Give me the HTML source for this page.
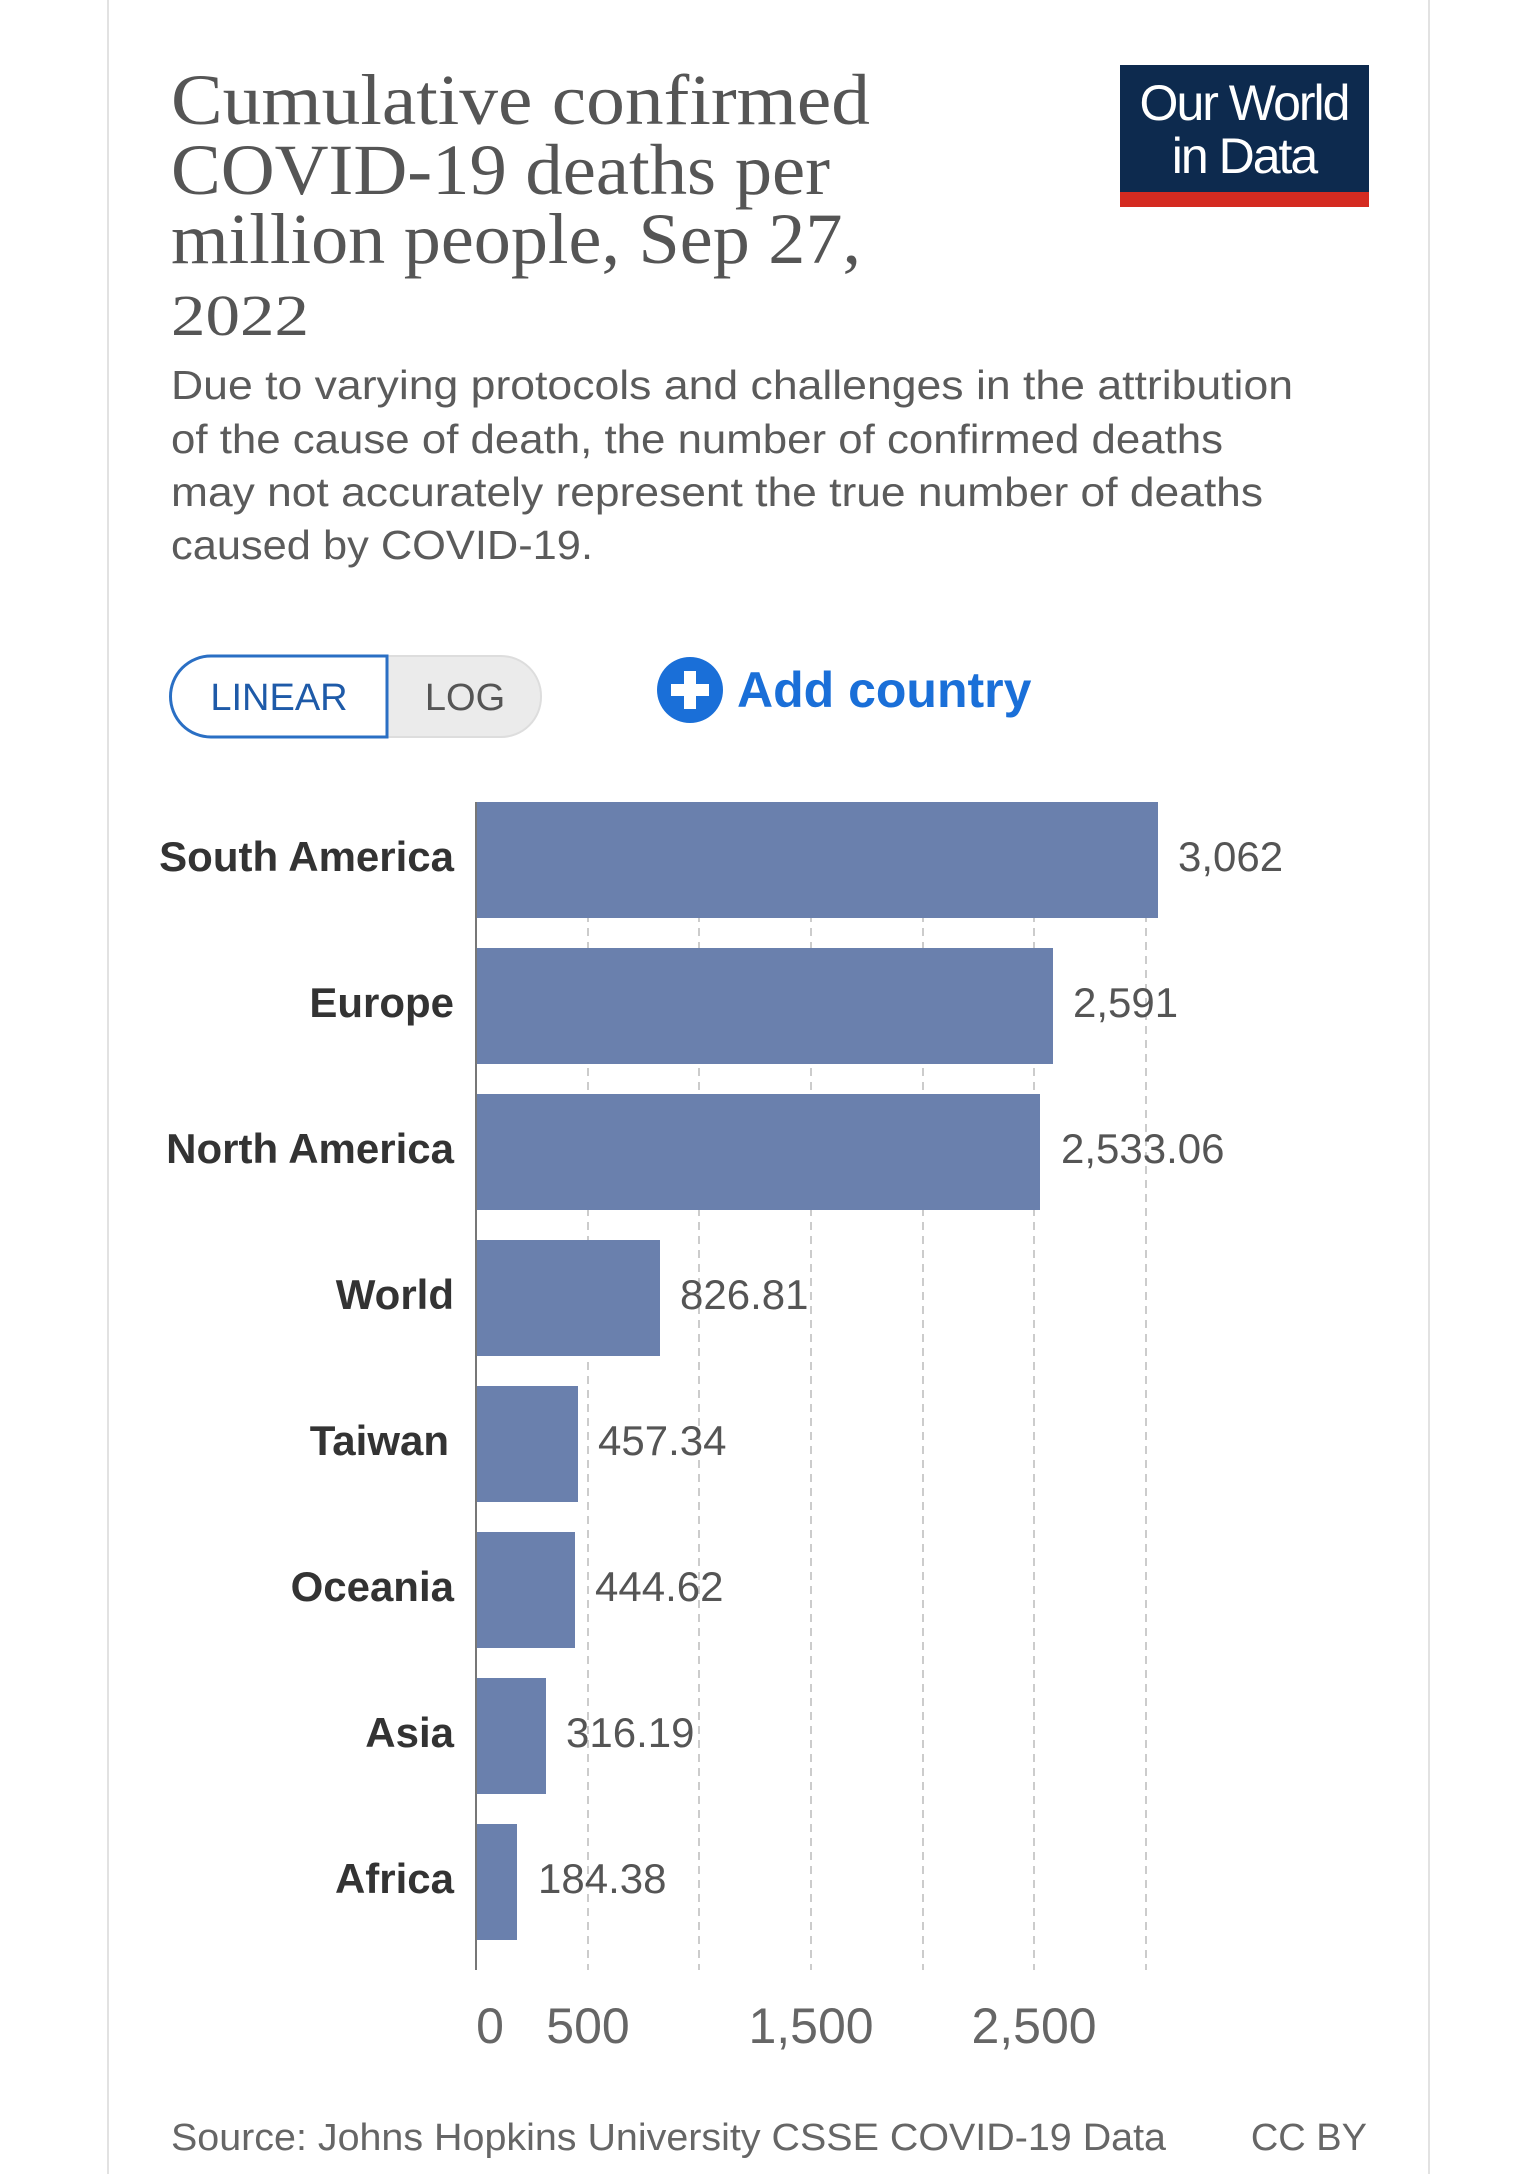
<!DOCTYPE html>
<html><head><meta charset="utf-8"><style>
html,body{margin:0;padding:0;background:#fff;}
svg{display:block;}
</style></head><body>
<svg width="1536" height="2174" viewBox="0 0 1536 2174" xmlns="http://www.w3.org/2000/svg" font-family="Liberation Sans, sans-serif">
<rect width="1536" height="2174" fill="#fff"/>
<rect x="108" y="-10" width="1321" height="2200" fill="#fff" stroke="#e2e2e2" stroke-width="2"/>
<g font-family="Liberation Serif, serif" fill="#555" font-size="72">
<text x="171" y="124" textLength="699" lengthAdjust="spacingAndGlyphs">Cumulative confirmed</text>
<text x="171" y="194" textLength="659" lengthAdjust="spacingAndGlyphs">COVID-19 deaths per</text>
<text x="171" y="263" textLength="690" lengthAdjust="spacingAndGlyphs">million people, Sep 27,</text>
<text x="171" y="335" font-size="58" textLength="138" lengthAdjust="spacingAndGlyphs">2022</text>
</g>
<rect x="1120" y="65" width="249" height="142" fill="#0d2a4e"/>
<rect x="1120" y="192" width="249" height="15" fill="#d42b21"/>
<text x="1244" y="120" fill="#fff" font-size="50" text-anchor="middle" letter-spacing="-2">Our World</text>
<text x="1244" y="173" fill="#fff" font-size="50" text-anchor="middle" letter-spacing="-2">in Data</text>
<g fill="#5b5b5b" font-size="41" lengthAdjust="spacingAndGlyphs">
<text x="171" y="399" textLength="1122" lengthAdjust="spacingAndGlyphs">Due to varying protocols and challenges in the attribution</text>
<text x="171" y="453" textLength="1052" lengthAdjust="spacingAndGlyphs">of the cause of death, the number of confirmed deaths</text>
<text x="171" y="506" textLength="1092" lengthAdjust="spacingAndGlyphs">may not accurately represent the true number of deaths</text>
<text x="171" y="559" textLength="422" lengthAdjust="spacingAndGlyphs">caused by COVID-19.</text>
</g>
<rect x="171" y="656" width="370" height="81" rx="40" fill="#ebebeb" stroke="#ddd" stroke-width="2"/>
<path d="M387 656 H211 A40 40 0 0 0 211 737 H387 Z" fill="#fff" stroke="#2a6fc4" stroke-width="3"/>
<text x="279" y="710" fill="#1e5aa8" font-size="38" text-anchor="middle">LINEAR</text>
<text x="465" y="710" fill="#555" font-size="38" text-anchor="middle">LOG</text>
<circle cx="690" cy="690" r="33" fill="#1a6fd8"/>
<rect x="671" y="684" width="38" height="12" fill="#fff"/>
<rect x="684" y="671" width="12" height="38" fill="#fff"/>
<text x="737" y="707" fill="#1a6fd8" font-size="50" font-weight="bold">Add country</text>
<g stroke="#ccc" stroke-width="2" stroke-dasharray="8,6">
<line x1="588" y1="802" x2="588" y2="1970"/><line x1="699" y1="802" x2="699" y2="1970"/>
<line x1="811" y1="802" x2="811" y2="1970"/><line x1="923" y1="802" x2="923" y2="1970"/>
<line x1="1034" y1="802" x2="1034" y2="1970"/><line x1="1146" y1="802" x2="1146" y2="1970"/>
</g>
<g fill="#6a80ad">
<rect x="476" y="802" width="682" height="116"/>
<rect x="476" y="948" width="577" height="116"/>
<rect x="476" y="1094" width="564" height="116"/>
<rect x="476" y="1240" width="184" height="116"/>
<rect x="476" y="1386" width="102" height="116"/>
<rect x="476" y="1532" width="99" height="116"/>
<rect x="476" y="1678" width="70" height="116"/>
<rect x="476" y="1824" width="41" height="116"/>
</g>
<line x1="476" y1="802" x2="476" y2="1970" stroke="#777" stroke-width="2"/>
<g fill="#333" font-size="42" font-weight="bold" text-anchor="end">
<text x="454" y="871">South America</text>
<text x="454" y="1017">Europe</text>
<text x="454" y="1163">North America</text>
<text x="454" y="1309">World</text>
<text x="449" y="1455">Taiwan</text>
<text x="454" y="1601">Oceania</text>
<text x="454" y="1747">Asia</text>
<text x="454" y="1893">Africa</text>
</g>
<g fill="#555" font-size="42">
<text x="1178" y="871">3,062</text>
<text x="1073" y="1017">2,591</text>
<text x="1061" y="1163">2,533.06</text>
<text x="680" y="1309">826.81</text>
<text x="598" y="1455">457.34</text>
<text x="595" y="1601">444.62</text>
<text x="566" y="1747">316.19</text>
<text x="538" y="1893">184.38</text>
</g>
<g fill="#666" font-size="50" text-anchor="middle">
<text x="490" y="2043">0</text><text x="588" y="2043">500</text>
<text x="811" y="2043">1,500</text><text x="1034" y="2043">2,500</text>
</g>
<text x="171" y="2150" fill="#666" font-size="38" textLength="995" lengthAdjust="spacingAndGlyphs">Source: Johns Hopkins University CSSE COVID-19 Data</text>
<text x="1367" y="2150" fill="#666" font-size="38" text-anchor="end">CC BY</text>
</svg>
</body></html>
